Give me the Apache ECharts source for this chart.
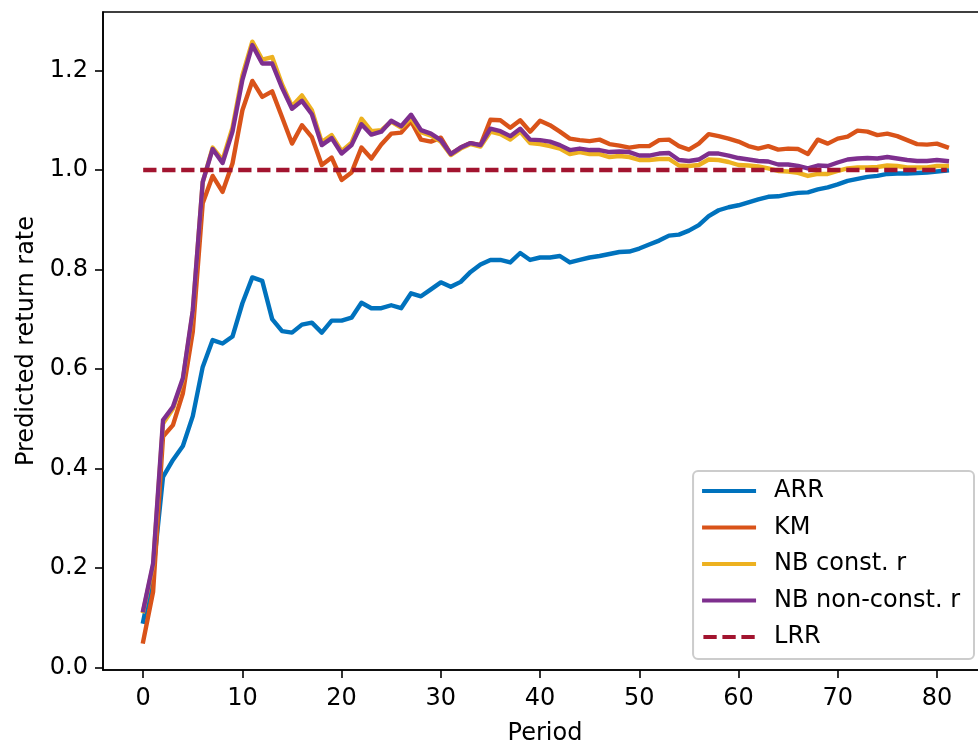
<!DOCTYPE html>
<html>
<head>
<meta charset="utf-8">
<script src="https://cdn.jsdelivr.net/npm/echarts@6/dist/echarts.min.js"></script>
<style>
  html, body { margin: 0; padding: 0; background: #ffffff; overflow: hidden; }
  #chart { width: 978px; height: 747px; }
</style>
</head>
<body>
<div id="chart"></div>
<script>
// Period index along the x axis
const periods = Array.from({ length: 82 }, (_, i) => i);

// Predicted return rate per method
const arr = [
  0.092, 0.190, 0.383, 0.417, 0.445, 0.505, 0.604, 0.658, 0.651, 0.665,
  0.732, 0.784, 0.777, 0.700, 0.676, 0.673, 0.689, 0.693, 0.673, 0.697,
  0.697, 0.703, 0.733, 0.722, 0.722, 0.728, 0.722, 0.752, 0.746, 0.760,
  0.774, 0.765, 0.775, 0.795, 0.810, 0.819, 0.819, 0.814, 0.833, 0.819,
  0.824, 0.824, 0.827, 0.814, 0.819, 0.824, 0.827, 0.831, 0.835, 0.836,
  0.842, 0.850, 0.858, 0.868, 0.870, 0.878, 0.889, 0.907, 0.919, 0.925,
  0.929, 0.935, 0.941, 0.946, 0.947, 0.951, 0.954, 0.955, 0.961, 0.965,
  0.971, 0.978, 0.982, 0.986, 0.988, 0.992, 0.993, 0.993, 0.994, 0.995,
  0.997, 0.999
];

const km = [
  0.052, 0.152, 0.464, 0.487, 0.551, 0.675, 0.933, 0.988, 0.956, 1.013,
  1.120, 1.179, 1.147, 1.158, 1.106, 1.053, 1.090, 1.066, 1.010, 1.025,
  0.980, 0.995, 1.045, 1.023, 1.051, 1.073, 1.075, 1.098, 1.061, 1.057,
  1.065, 1.032, 1.045, 1.054, 1.050, 1.101, 1.100, 1.085, 1.100, 1.077,
  1.099, 1.090, 1.077, 1.063, 1.060, 1.058, 1.061, 1.052, 1.049, 1.045,
  1.048, 1.048, 1.060, 1.061, 1.048, 1.041, 1.053, 1.072, 1.068, 1.063,
  1.057, 1.048, 1.043, 1.048, 1.041, 1.043, 1.042, 1.032, 1.061, 1.053,
  1.063, 1.067, 1.079, 1.077, 1.070, 1.073, 1.068, 1.060, 1.052, 1.051,
  1.053, 1.046
];

const nbConst = [
  0.113, 0.205, 0.490, 0.520, 0.578, 0.715, 0.975, 1.045, 1.020, 1.085,
  1.190, 1.258, 1.222, 1.227, 1.172, 1.128, 1.150, 1.120, 1.056, 1.070,
  1.038, 1.055, 1.103, 1.078, 1.080, 1.097, 1.085, 1.104, 1.076, 1.069,
  1.057, 1.030, 1.043, 1.052, 1.047, 1.077, 1.072, 1.061, 1.077, 1.054,
  1.052, 1.048, 1.043, 1.032, 1.036, 1.032, 1.032, 1.026, 1.028, 1.026,
  1.020, 1.020, 1.022, 1.022, 1.009, 1.008, 1.010, 1.021, 1.020, 1.016,
  1.010, 1.009, 1.007, 1.003, 0.998, 0.997, 0.994, 0.988, 0.992, 0.992,
  0.998, 1.003, 1.005, 1.005, 1.006, 1.009, 1.008, 1.005, 1.005, 1.005,
  1.008, 1.008
];

const nbNonConst = [
  0.115, 0.209, 0.497, 0.524, 0.581, 0.718, 0.976, 1.042, 1.014, 1.077,
  1.181, 1.251, 1.214, 1.214, 1.165, 1.123, 1.139, 1.112, 1.050, 1.064,
  1.033, 1.050, 1.092, 1.071, 1.077, 1.099, 1.088, 1.111, 1.080, 1.073,
  1.060, 1.032, 1.045, 1.054, 1.050, 1.083, 1.078, 1.068, 1.083, 1.061,
  1.060, 1.057, 1.050, 1.040, 1.043, 1.040, 1.040, 1.036, 1.037, 1.036,
  1.029, 1.029, 1.033, 1.034, 1.020, 1.018, 1.021, 1.033, 1.033, 1.029,
  1.024, 1.021, 1.018, 1.017, 1.011, 1.011, 1.008, 1.003, 1.009, 1.008,
  1.015, 1.021, 1.023, 1.024, 1.023, 1.026, 1.023, 1.020, 1.018, 1.018,
  1.020, 1.018
];

// Long-run return rate (constant reference level)
const lrrLevel = 1.0;

// Axis tick positions
const xTicks = [0, 10, 20, 30, 40, 50, 60, 70, 80];
const yTicks = [0.0, 0.2, 0.4, 0.6, 0.8, 1.0, 1.2];

const FONT = 'DejaVu Sans';
const FS = 24;
const LW = 4.4;

// Legend handles: a solid bar, and three dashes for the LRR entry
const DASH_ICON = 'path://M0,0h13.3v4h-13.3z M19,0h13.3v4h-13.3z M38,0h13.3v4h-13.3z';

const pairs = (vals) => periods.map((p, i) => [p, vals[i]]);

function solidLine(name, color, vals) {
  return {
    name: name,
    type: 'line',
    data: pairs(vals),
    symbol: 'none',
    animation: false,
    lineStyle: { color: color, width: LW, join: 'round', cap: 'square' },
    itemStyle: { color: color }
  };
}

const chart = echarts.init(document.getElementById('chart'), null, { renderer: 'canvas' });

chart.setOption({
  animation: false,
  backgroundColor: '#ffffff',
  textStyle: { fontFamily: FONT },
  grid: {
    left: 103, top: 12, width: 884, height: 658,
    show: true, borderColor: '#000000', borderWidth: 1.6,
    containLabel: false,
    outerBoundsMode: 'none'
  },
  xAxis: {
    type: 'value',
    min: -4.05, max: 85.05,
    name: 'Period',
    nameLocation: 'middle',
    nameGap: 52,
    nameTextStyle: { fontFamily: FONT, fontSize: FS, color: '#000000' },
    axisLine: { show: true, onZero: false, lineStyle: { color: '#000000', width: 1.6 } },
    axisTick: { show: true, length: 8, customValues: xTicks, lineStyle: { color: '#000000', width: 1.6 } },
    axisLabel: { customValues: xTicks, margin: 17, fontFamily: FONT, fontSize: FS, color: '#000000' },
    splitLine: { show: false }
  },
  yAxis: {
    type: 'value',
    min: -0.0054, max: 1.3176,
    name: 'Predicted return rate',
    nameLocation: 'middle',
    nameGap: 64,
    nameTextStyle: { fontFamily: FONT, fontSize: FS, color: '#000000' },
    axisLine: { show: true, onZero: false, lineStyle: { color: '#000000', width: 1.6 } },
    axisTick: { show: true, length: 8, customValues: yTicks, lineStyle: { color: '#000000', width: 1.6 } },
    axisLabel: {
      customValues: yTicks, margin: 15, fontFamily: FONT, fontSize: FS, color: '#000000',
      formatter: (v) => v.toFixed(1)
    },
    splitLine: { show: false }
  },
  legend: {
    orient: 'vertical',
    right: 4,
    bottom: 88,
    itemWidth: 54,
    itemHeight: 4,
    itemGap: 8.5,
    padding: [6, 14, 8, 9],
    backgroundColor: 'rgba(255,255,255,0.8)',
    borderColor: '#cccccc',
    borderWidth: 2,
    borderRadius: 5,
    textStyle: { fontFamily: FONT, fontSize: FS, color: '#000000', lineHeight: 28, padding: [0, 0, 0, 13] },
    data: [
      { name: 'ARR', icon: 'rect' },
      { name: 'KM', icon: 'rect' },
      { name: 'NB const. r', icon: 'rect' },
      { name: 'NB non-const. r', icon: 'rect' },
      { name: 'LRR', icon: DASH_ICON }
    ]
  },
  series: [
    solidLine('ARR', '#0072BD', arr),
    solidLine('KM', '#D95319', km),
    solidLine('NB const. r', '#EDB120', nbConst),
    solidLine('NB non-const. r', '#7E2F8E', nbNonConst),
    {
      name: 'LRR',
      type: 'line',
      data: [[periods[0], lrrLevel], [periods[periods.length - 1], lrrLevel]],
      symbol: 'none',
      animation: false,
      lineStyle: { color: '#A2142F', width: LW, type: [13.3, 5.7], cap: 'butt' },
      itemStyle: { color: '#A2142F' }
    }
  ]
});
</script>
</body>
</html>
